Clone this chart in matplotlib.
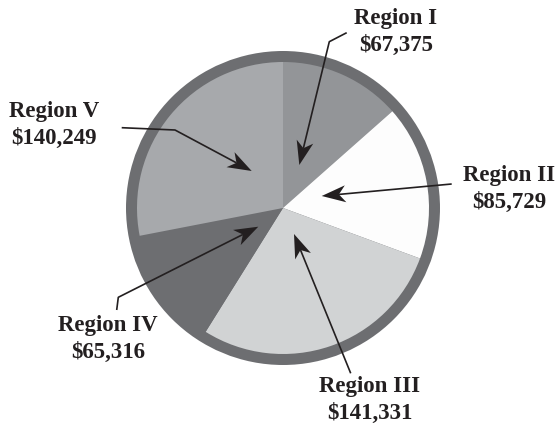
import matplotlib
matplotlib.use("Agg")
import matplotlib.pyplot as plt
from matplotlib.patches import Circle, Polygon
import numpy as np

# ---- data ----
regions = ["Region I", "Region II", "Region III", "Region IV", "Region V"]
values = [67375, 85729, 141331, 65316, 140249]
value_labels = ["$67,375", "$85,729", "$141,331", "$65,316", "$140,249"]
colors = ["#939598", "#fdfdfd", "#d1d3d4", "#6d6e71", "#a7a9ac"]
ring_color = "#6d6e71"

W, H = 557, 428
fig = plt.figure(figsize=(W / 100, H / 100), dpi=100)
ax = fig.add_axes([0, 0, 1, 1])
ax.set_xlim(0, W)
ax.set_ylim(0, H)
ax.axis("off")

def Y(y):  # image-row to axes y
    return H - y

cx, cy = 283, 208
r_in, r_out = 146, 157

ax.add_patch(Circle((cx, Y(cy)), r_out, color=ring_color, zorder=1, lw=0))
wedges, _ = ax.pie(values, colors=colors, startangle=90, counterclock=False,
                   radius=r_in, center=(cx, Y(cy)), frame=True,
                   wedgeprops=dict(linewidth=0, edgecolor="none"))
for w in wedges:
    w.set_zorder(2)
ax.set_xlim(0, W)
ax.set_ylim(0, H)
ax.set_aspect("auto")
ax.axis("off")

# label positions (center x, baseline of first line) in image pixels
label_pos = [(396, 24), (509, 181), (370, 392), (108, 331), (54, 117)]
line_gap = 27
font = dict(family=["Liberation Serif", "DejaVu Serif"], fontweight="bold",
            fontsize=16.5, color="#231f20")
for (x, yb), name, val in zip(label_pos, regions, value_labels):
    ax.text(x, Y(yb), name, ha="center", va="baseline", zorder=5, **font)
    ax.text(x, Y(yb + line_gap), val, ha="center", va="baseline", zorder=5, **font)

# leader lines (image pixels), last point is arrow tip
leaders = [
    [(346.7, 32.7), (329.3, 41.7), (299.3, 165)],
    [(451.7, 184), (321.7, 196)],
    [(350.7, 373.3), (294, 234)],
    [(116.7, 310), (118.3, 297.3), (258.3, 226.7)],
    [(121.7, 127.7), (175, 130), (251.7, 171)],
]

L, Wd, notch = 24, 17, 0.72
for pts in leaders:
    xs = [p[0] for p in pts]
    ys = [Y(p[1]) for p in pts]
    tip = np.array([xs[-1], ys[-1]])
    prev = np.array([xs[-2], ys[-2]])
    d = tip - prev
    d = d / np.hypot(*d)
    n = np.array([-d[1], d[0]])
    base = tip - L * notch * d
    ax.plot(xs[:-1] + [base[0]], ys[:-1] + [base[1]], color="#231f20",
            lw=1.2, solid_capstyle="butt", zorder=4)
    head = [tip, tip - L * d + Wd / 2 * n, base, tip - L * d - Wd / 2 * n]
    ax.add_patch(Polygon(head, closed=True, color="#231f20", lw=0, zorder=4))

fig.savefig("out.png", dpi=100)
